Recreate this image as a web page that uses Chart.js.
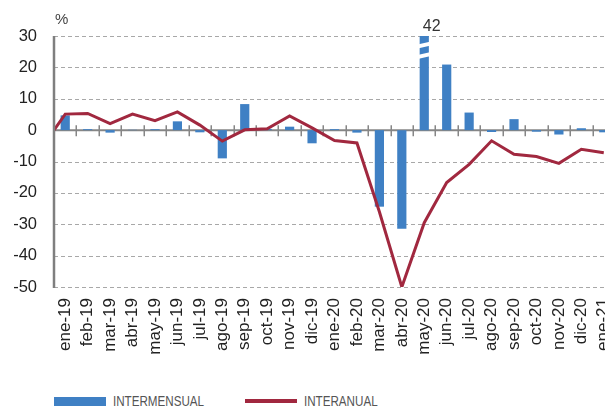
<!DOCTYPE html>
<html lang="es">
<head>
<meta charset="utf-8">
<title>Variación intermensual e interanual</title>
<script src="https://cdn.jsdelivr.net/npm/chart.js@4.4.1/dist/chart.umd.min.js"></script>
<style>
  html, body { margin: 0; padding: 0; background: #fff; overflow: hidden; }
  #wrap { position: relative; width: 605px; height: 408px; overflow: hidden; background: #fff; }
  #chart { position: absolute; left: 0; top: 0; }
  .unit { position: absolute; left: 55px; top: 10px; font: 15px "Liberation Sans", Arial, sans-serif; color: #444; }
  .legend-item { position: absolute; top: 393px; height: 16px; display: flex; align-items: center; white-space: nowrap;
                 font: 14px "Liberation Sans", Arial, sans-serif; color: #555; }
  .legend-item .txt { display: inline-block; transform: scaleX(0.83); transform-origin: left center; }
  .swatch { display: inline-block; margin-right: 7px; }
</style>
</head>
<body>
<div id="wrap">
  <canvas id="chart" width="625" height="370"></canvas>
  <div class="unit">%</div>
  <div class="legend-item" style="left:54px"><span class="swatch" id="swBar" style="width:52px;height:9px"></span><span class="txt">INTERMENSUAL</span></div>
  <div class="legend-item" style="left:245px"><span class="swatch" id="swLine" style="width:52px;height:4px"></span><span class="txt">INTERANUAL</span></div>
</div>
<script>
// Months shown on the horizontal axis
const months = ['ene-19','feb-19','mar-19','abr-19','may-19','jun-19','jul-19','ago-19','sep-19','oct-19','nov-19','dic-19',
                'ene-20','feb-20','mar-20','abr-20','may-20','jun-20','jul-20','ago-20','sep-20','oct-20','nov-20','dic-20','ene-21'];

// Month-on-month change (%)
const intermensual = [4.7, 0.3, -0.8, 0.1, 0.3, 2.8, -0.7, -9.0, 8.3, 0.4, 1.1, -4.2,
                      0.3, -0.8, -24.4, -31.4, 42, 20.9, 5.6, -0.6, 3.5, -0.5, -1.4, 0.6, -0.7];

// Year-on-year change (%)
const interanual = [5.1, 5.3, 2.1, 5.1, 3.0, 5.8, 1.6, -3.5, 0.1, 0.4, 4.5, 0.7,
                    -3.3, -4.1, -26.0, -50.0, -29.5, -16.7, -10.9, -3.4, -7.7, -8.4, -10.6, -6.1, -7.2];

// The year-on-year line starts from zero at the left edge of the plot
const interanualStart = 0;

// Value axis ticks
const yTicks = [30, 20, 10, 0, -10, -20, -30, -40, -50];

const BLUE = '#3f80c4';
const RED = '#a1283f';
const FONT = '"Liberation Sans", Arial, Helvetica, sans-serif';

document.getElementById('swBar').style.background = BLUE;
document.getElementById('swLine').style.background = RED;

const linePoints = [{ x: -0.5, y: interanualStart }].concat(interanual.map((v, i) => ({ x: i, y: v })));

// Dashed gridlines, zero axis with category ticks, left axis, broken bar and its value
const frame = {
  id: 'frame',
  beforeDatasetsDraw(chart) {
    const { ctx, chartArea: a, scales: { x, y } } = chart;
    ctx.save();
    ctx.strokeStyle = '#a8a8a8';
    ctx.lineWidth = 1;
    ctx.setLineDash([4, 3]);
    yTicks.forEach(v => {
      if (v === 0) return;
      const py = Math.round(y.getPixelForValue(v)) + 0.5;
      ctx.beginPath(); ctx.moveTo(a.left, py); ctx.lineTo(a.right, py); ctx.stroke();
    });
    ctx.setLineDash([]);
    const y0 = y.getPixelForValue(0);
    ctx.strokeStyle = '#868686';
    ctx.lineWidth = 2;
    ctx.beginPath(); ctx.moveTo(a.left, y0); ctx.lineTo(a.right + 20, y0); ctx.stroke();
    ctx.lineWidth = 1.5;
    const half = (x.getPixelForValue(1) - x.getPixelForValue(0)) / 2;
    for (let i = 1; i < months.length; i++) {
      const px = Math.round(x.getPixelForValue(i) - half) + 0.25;
      ctx.beginPath(); ctx.moveTo(px, y0 - 5); ctx.lineTo(px, y0 + 6); ctx.stroke();
    }
    ctx.restore();
  },
  afterDatasetDraw(chart, args) {
    if (args.index !== 0) return;
    const { ctx, chartArea: a, scales: { y } } = chart;
    const meta = chart.getDatasetMeta(0);
    ctx.save();
    intermensual.forEach((v, i) => {
      if (v <= y.max) return;
      const el = meta.data[i];
      const hw = el.width / 2 + 2;
      const bx = el.x;
      ctx.fillStyle = '#fff';
      [9, 19.5].forEach(c => {
        ctx.beginPath();
        ctx.moveTo(bx - hw, a.top + c - 0.5);
        ctx.lineTo(bx + hw, a.top + c - 3.5);
        ctx.lineTo(bx + hw, a.top + c + 0.5);
        ctx.lineTo(bx - hw, a.top + c + 3.5);
        ctx.closePath();
        ctx.fill();
      });
      ctx.fillStyle = '#333';
      ctx.font = '16px ' + FONT;
      ctx.textAlign = 'left';
      ctx.textBaseline = 'alphabetic';
      ctx.fillText(String(v), bx - 1.5, a.top - 5);
    });
    ctx.restore();
  },
  afterDraw(chart) {
    const { ctx, chartArea: a } = chart;
    ctx.save();
    ctx.strokeStyle = '#7f7f7f';
    ctx.lineWidth = 2.5;
    ctx.beginPath(); ctx.moveTo(a.left, a.top); ctx.lineTo(a.left, a.bottom + 1); ctx.stroke();
    ctx.restore();
  }
};

new Chart(document.getElementById('chart'), {
  data: {
    labels: months,
    datasets: [
      {
        type: 'bar',
        label: 'INTERMENSUAL',
        data: intermensual,
        backgroundColor: BLUE,
        borderWidth: 0,
        grouped: false,
        barPercentage: 0.41,
        categoryPercentage: 1,
        order: 1,
        xAxisID: 'x'
      },
      {
        type: 'line',
        label: 'INTERANUAL',
        data: linePoints,
        borderColor: RED,
        borderWidth: 3,
        pointRadius: 0,
        tension: 0,
        fill: false,
        order: 0,
        xAxisID: 'x2'
      }
    ]
  },
  options: {
    responsive: false,
    animation: false,
    layout: { padding: { top: 36, right: 10, bottom: 8, left: 0 } },
    plugins: { legend: { display: false }, tooltip: { enabled: false } },
    scales: {
      x: {
        type: 'category',
        offset: true,
        grid: { display: false, drawTicks: false },
        border: { display: false },
        ticks: { autoSkip: false, minRotation: 90, maxRotation: 90, padding: 11, color: '#222',
                 font: { family: FONT, size: 17 } },
        afterFit(s) { s.height = 75; s.paddingLeft = 0; s.paddingRight = 0; }
      },
      x2: { type: 'linear', display: false, min: -0.5, max: months.length - 0.5 },
      y: {
        min: -50, max: 30,
        afterBuildTicks(s) { s.ticks = yTicks.map(v => ({ value: v })); },
        grid: { display: false, drawTicks: false },
        border: { display: false },
        ticks: { padding: 17, color: '#222', font: { family: FONT, size: 16.5 } },
        afterFit(s) { s.width = 54; s.paddingTop = 0; s.paddingBottom = 0; }
      }
    }
  },
  plugins: [frame]
});
</script>
</body>
</html>
